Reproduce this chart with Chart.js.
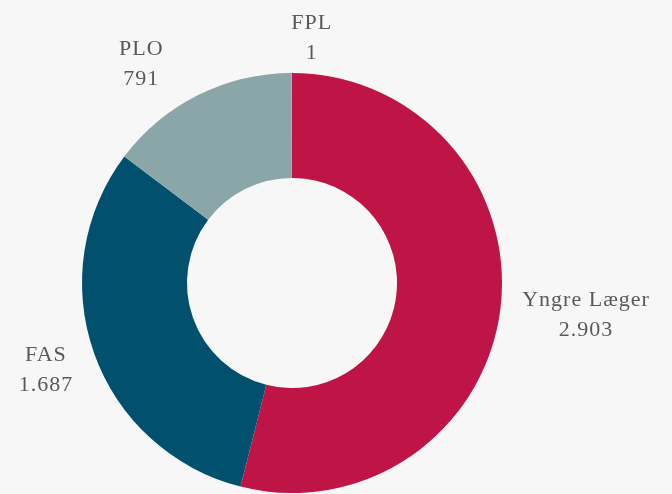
<!DOCTYPE html>
<html>
<head>
<meta charset="utf-8">
<script src="https://cdn.jsdelivr.net/npm/chart.js@4"></script>
<style>
  html, body { margin: 0; padding: 0; background: #f7f7f7; }
  #wrap { width: 672px; height: 494px; position: relative; }
</style>
</head>
<body>
<div id="wrap"><canvas id="chart"></canvas></div>
<script>
const categories = ['Yngre Læger', 'FAS', 'PLO', 'FPL'];
const members = [2903, 1687, 791, 1];
const sliceColors = ['#be1446', '#00506e', '#8aa6a9', '#d9a066'];

const fmt = v => String(v).replace(/\B(?=(\d{3})+(?!\d))/g, '.');

// labels outside the ring; narrow neighbours get pushed apart, boxes kept on canvas
const outsideLabels = {
  id: 'outsideLabels',
  afterDraw(chart) {
    const ctx = chart.ctx;
    const arcs = chart.getDatasetMeta(0).data;
    const minSep = 40 * Math.PI / 180;
    const angles = arcs.map(a => (a.startAngle + a.endAngle) / 2);
    for (let i = 1; i < angles.length; i++) {
      const deficit = minSep - (angles[i] - angles[i - 1]);
      if (deficit > 0) {
        angles[i - 1] -= deficit * 2 / 3;
        angles[i] += deficit / 3;
      }
    }
    ctx.save();
    ctx.font = '22px "Liberation Serif"';
    ctx.fillStyle = '#595959';
    ctx.textAlign = 'center';
    ctx.textBaseline = 'middle';
    ctx.letterSpacing = '1px';
    const lineH = 30, gap = 22, margin = 8;
    arcs.forEach((arc, i) => {
      const lines = [categories[i], fmt(members[i])];
      const w = Math.max(...lines.map(t => ctx.measureText(t).width));
      const h = lineH * lines.length;
      const vx = Math.cos(angles[i]), vy = Math.sin(angles[i]);
      const vs = 1 / Math.max(Math.abs(vx), Math.abs(vy));
      let cx = arc.x + vx * (arc.outerRadius + gap) + w / 2 * vx * vs;
      let cy = arc.y + vy * (arc.outerRadius + gap) + h / 2 * vy * vs;
      cx = Math.min(Math.max(cx, margin + w / 2), chart.width - margin - w / 2);
      cy = Math.min(Math.max(cy, margin + h / 2), chart.height - margin - h / 2);
      lines.forEach((t, k) => ctx.fillText(t, cx, cy + (k - (lines.length - 1) / 2) * lineH));
    });
    ctx.restore();
  }
};

new Chart(document.getElementById('chart'), {
  type: 'doughnut',
  data: {
    labels: categories,
    datasets: [{
      data: members,
      backgroundColor: sliceColors,
      borderWidth: 0
    }]
  },
  options: {
    responsive: true,
    maintainAspectRatio: false,
    animation: false,
    cutout: '50%',
    layout: { padding: { top: 73, bottom: 1, left: 80, right: 168 } },
    plugins: {
      legend: { display: false },
      tooltip: { enabled: false }
    }
  },
  plugins: [outsideLabels]
});
</script>
</body>
</html>
